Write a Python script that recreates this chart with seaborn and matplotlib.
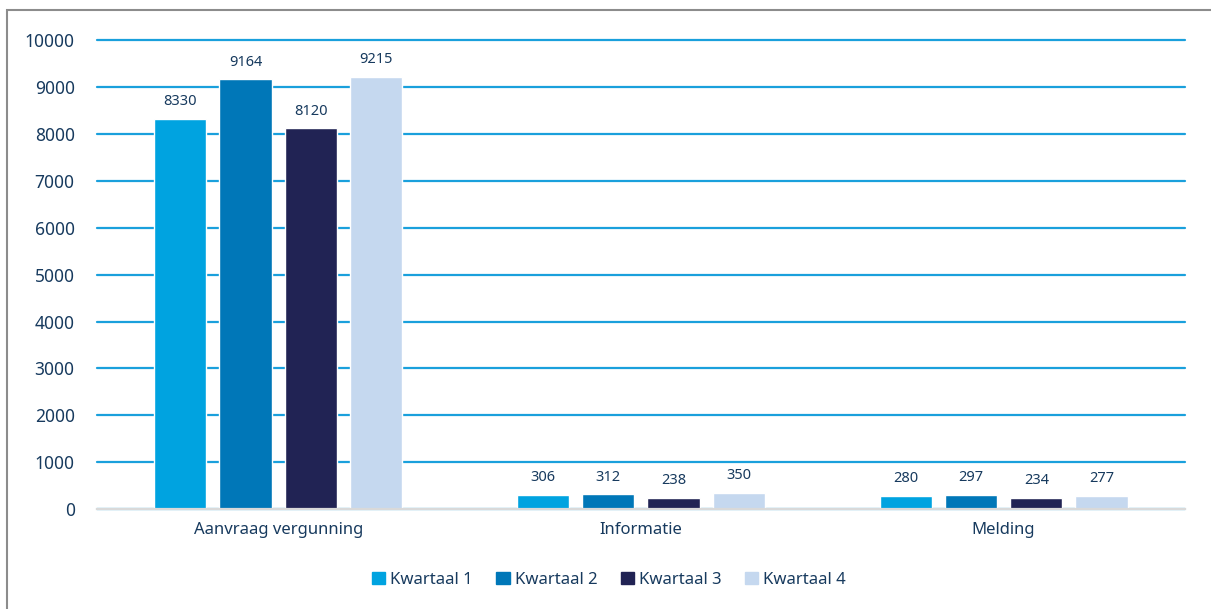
import matplotlib
matplotlib.use("Agg")
import matplotlib.pyplot as plt
import matplotlib.patches as mpatches
import pandas as pd
import seaborn as sns

# data
categories = ["Aanvraag vergunning", "Informatie", "Melding"]
quarters = ["Kwartaal 1", "Kwartaal 2", "Kwartaal 3", "Kwartaal 4"]
q1 = [8330, 306, 280]
q2 = [9164, 312, 297]
q3 = [8120, 238, 234]
q4 = [9215, 350, 277]
colors = ["#00A3E0", "#0077B8", "#212354", "#C5D8EF"]

rows = []
for q, vals in zip(quarters, [q1, q2, q3, q4]):
    for c, v in zip(categories, vals):
        rows.append({"categorie": c, "kwartaal": q, "aantal": v})
df = pd.DataFrame(rows)

text_color = "#173A5E"
grid_color = "#1AA0DC"

sns.set_style("white")
plt.rcParams["font.family"] = ["Noto Sans", "DejaVu Sans"]

fig = plt.figure(figsize=(12.11, 6.09), dpi=100)
ax = fig.add_axes([0.080, 0.164, 0.8985, 0.770])

sns.barplot(data=df, x="categorie", y="aantal", hue="kwartaal",
            palette=colors, width=0.72, gap=0.2, saturation=1,
            order=categories, hue_order=quarters, ax=ax, zorder=3)

for cont in ax.containers:
    ax.bar_label(cont, padding=7, fontsize=10.5, color=text_color)

ax.set_ylim(0, 10000)
ax.set_xlim(-0.5, 2.5)
ax.set_yticks(range(0, 10001, 1000))
ax.yaxis.grid(True, color=grid_color, linewidth=1.6, zorder=0)
ax.set_axisbelow(True)
for gl in ax.get_ygridlines():
    gl.set_clip_on(False)
for s in ["top", "right", "left"]:
    ax.spines[s].set_visible(False)
ax.spines["bottom"].set_color("#D9D9D9")
ax.spines["bottom"].set_linewidth(1.6)
ax.spines["bottom"].set_zorder(4)
ax.set_xlabel("")
ax.set_ylabel("")
ax.tick_params(axis="y", length=0, pad=16, labelsize=12.5, labelcolor=text_color)
ax.tick_params(axis="x", length=0, pad=9, labelsize=12, labelcolor=text_color)

handles = [mpatches.Patch(color=c, label=q) for c, q in zip(colors, quarters)]
ax.get_legend().remove()
fig.legend(handles=handles, loc="center", bbox_to_anchor=(0.503, 0.048), ncol=4,
           frameon=False, fontsize=12, labelcolor=text_color,
           handlelength=0.8, handleheight=0.8, handletextpad=0.3, columnspacing=1.4)

# outer frame
frame = mpatches.Rectangle((7 / 1211, -0.1), 1.2, 1 - 10 / 609 + 0.1,
                           transform=fig.transFigure, fill=False,
                           edgecolor="#8C8C8C", linewidth=1.5)
fig.patches.append(frame)

fig.savefig("out.png", dpi=100)
